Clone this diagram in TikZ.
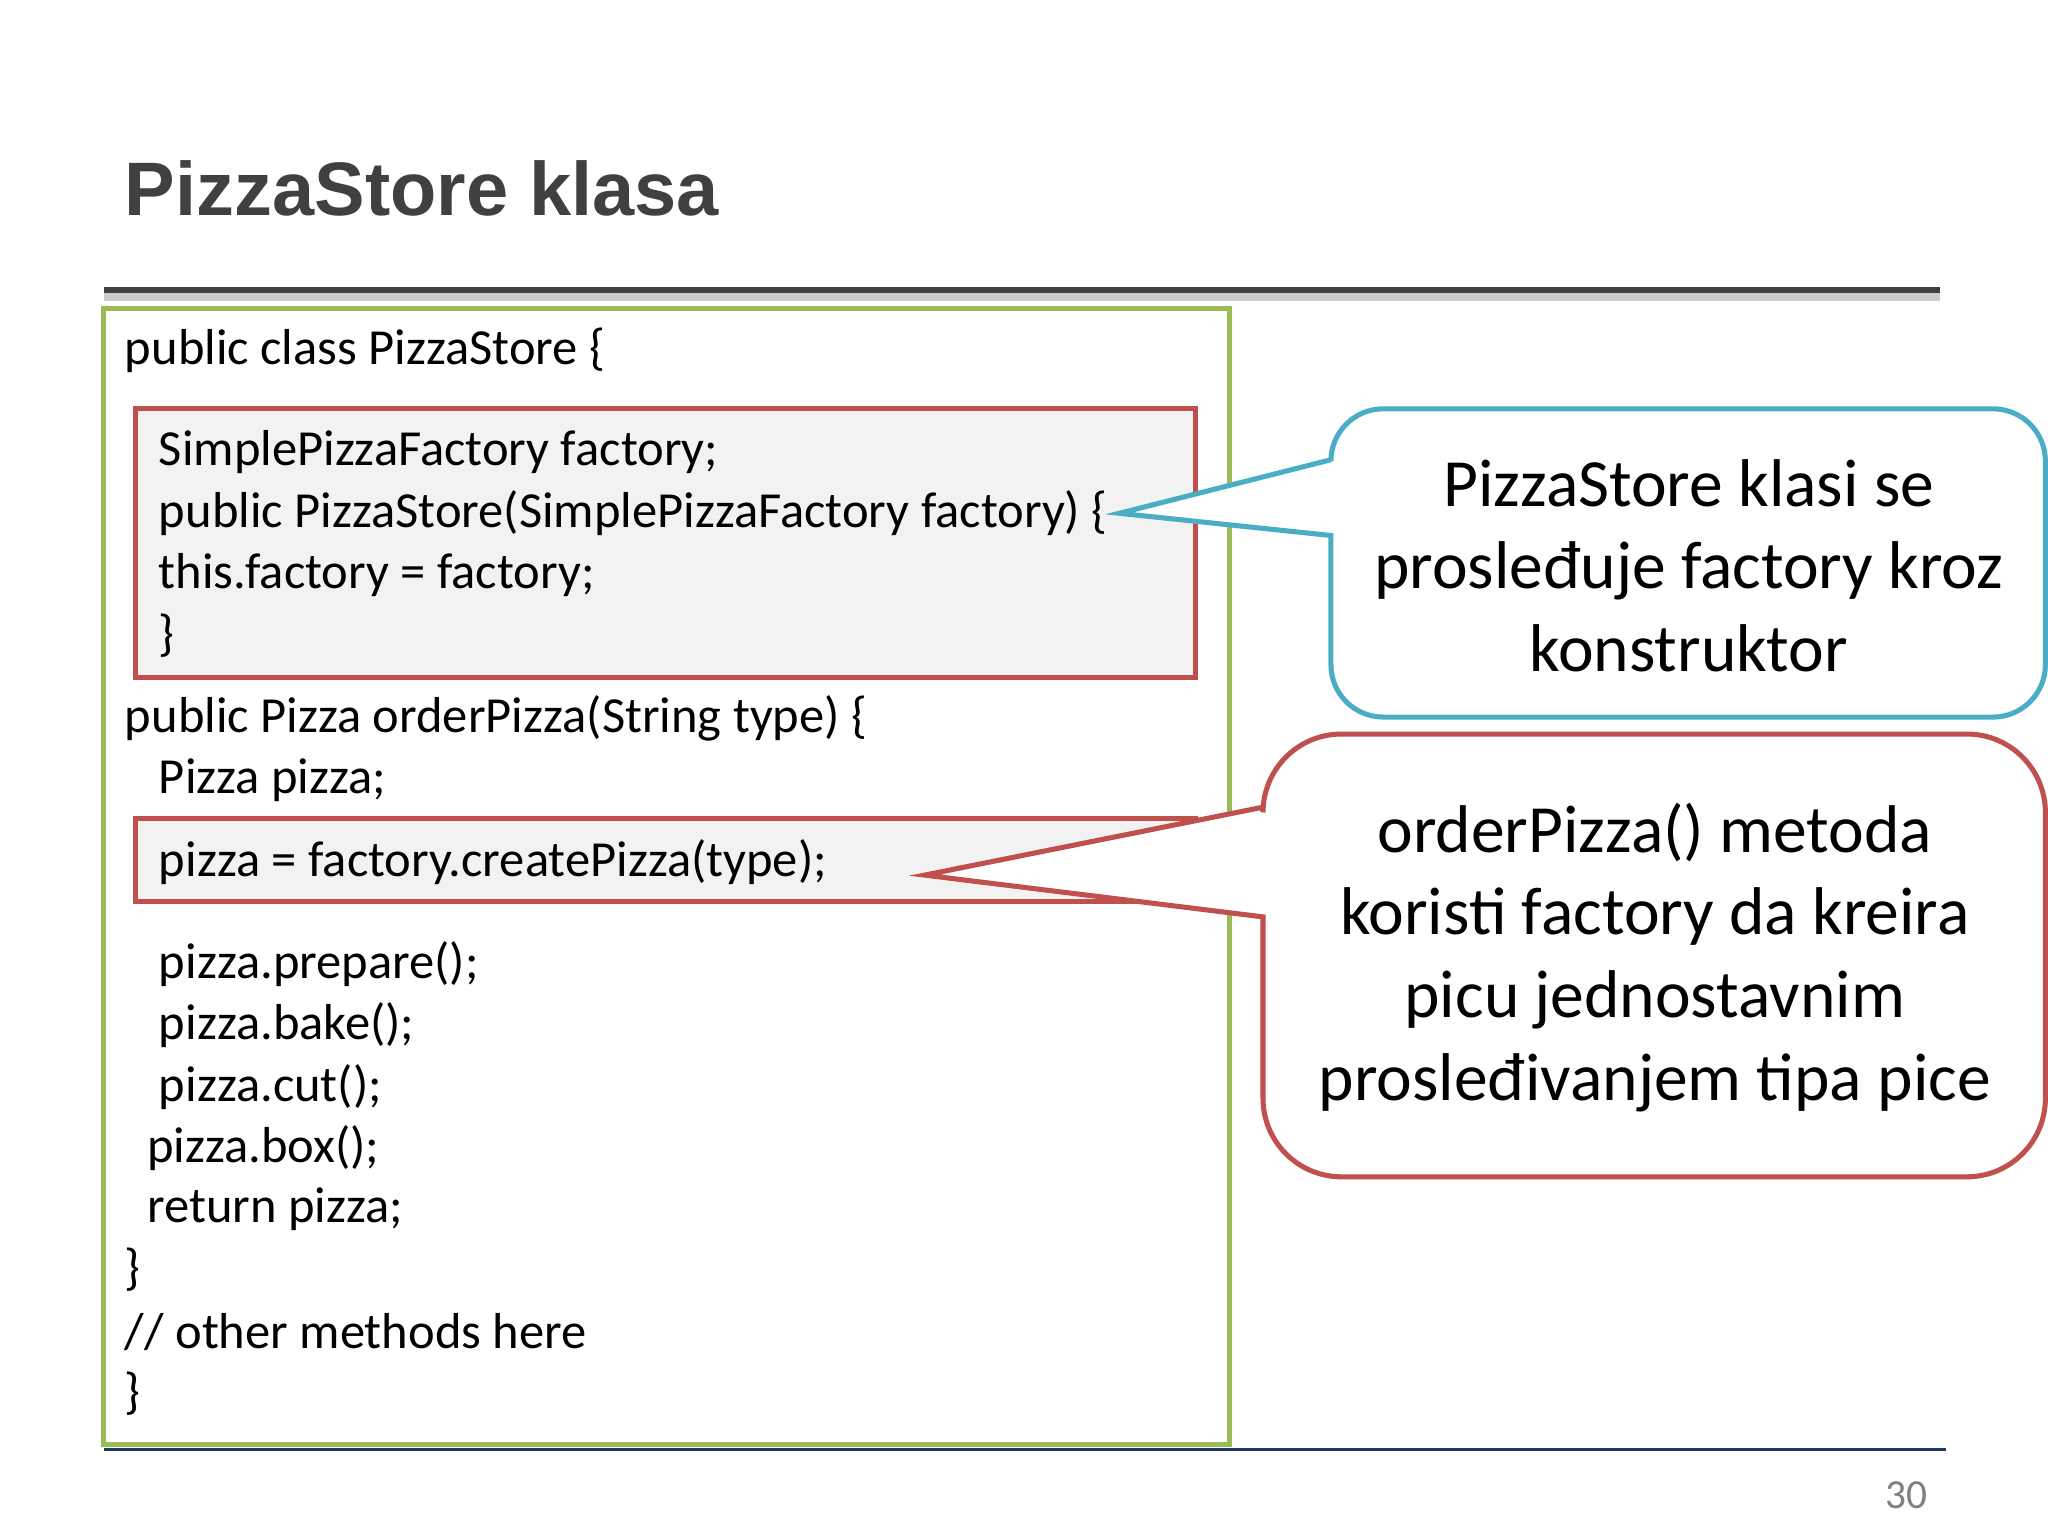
\documentclass[tikz,border=0pt]{standalone}
\usepackage{fontspec}
\setmainfont{Carlito}
\newfontfamily\titlefont{Liberation Sans}
\definecolor{tgray}{HTML}{404040}
\definecolor{cgreen}{HTML}{9BBB59}
\definecolor{cred}{HTML}{C0504D}
\definecolor{cblue}{HTML}{4BACC6}
\definecolor{cfill}{HTML}{F2F2F2}
\definecolor{cnavy}{HTML}{1F3864}
\begin{document}
\begin{tikzpicture}[x=0.01cm,y=-0.01cm,
  code/.style={anchor=west,inner sep=0pt,font=\fontsize{11}{13}\selectfont},
  hl/.style={draw=cred,line width=1.1pt,fill=cfill},
  call/.style={fill=white,line width=1.1pt},
  ctext/.style={align=center,font=\fontsize{14.7}{18}\selectfont}]
\useasboundingbox[fill=white] (0,0) rectangle (1568,1176);
\node[anchor=base west,inner sep=0pt,text=tgray,font=\titlefont\bfseries\fontsize{16.5}{20}\selectfont] (title) at (95,165) {PizzaStore klasa};
\coordinate (l1) at (80,222); \coordinate (l2) at (1485,222);
\draw[gray!40,line width=2pt] ([yshift=-1.5pt]l1) -- ([yshift=-1.5pt]l2);
\draw[tgray,line width=1.5pt] (l1) -- (l2);
\coordinate (b1) at (80,1110); \coordinate (b2) at (1490,1110);
\draw[cnavy,line width=0.6pt] (b1) -- (b2);
\node[text=gray,font=\fontsize{9}{11}\selectfont] (pg) at (1460,1145) {30};
\draw[cgreen,line width=1.1pt] (79,236) rectangle (941,1106);
\draw[hl] (104,313) rectangle (915,519);
\draw[hl] (104,627) rectangle (915,690);
\node[code] (c1) at (95,268) {public class PizzaStore \{};
\node[code] (c2) at (121,346) {SimplePizzaFactory factory;};
\node[code] (c3) at (121,393) {public PizzaStore(SimplePizzaFactory factory) \{};
\node[code] (c4) at (121,440) {this.factory = factory;};
\node[code] (c5) at (121,487) {\}};
\node[code] (c6) at (95,550) {public Pizza orderPizza(String type) \{};
\node[code] (c7) at (121,597) {Pizza pizza;};
\node[code] (c8) at (121,660) {pizza = factory.createPizza(type);};
\node[code] (c9) at (121,738) {pizza.prepare();};
\node[code] (c10) at (121,785) {pizza.bake();};
\node[code] (c11) at (121,832) {pizza.cut();};
\node[code] (c12) at (112,879) {pizza.box();};
\node[code] (c13) at (112,926) {return pizza;};
\node[code] (c14) at (95,972) {\}};
\node[code] (c15) at (95,1020) {// other methods here};
\node[code] (c16) at (95,1067) {\}};
% blue callout
\coordinate (bt) at (857,393);
\draw[call,draw=cblue] (1019,352) -- (bt) -- (1019,410) [rounded corners=0.4cm] -- (1019,549) -- (1566,549) -- (1566,313) -- (1019,313) [sharp corners] -- cycle;
\node[ctext] (t1) at (1293,433) {PizzaStore klasi se\\prosleđuje factory kroz\\konstruktor};
% red callout
\coordinate (rt) at (708,670);
\draw[call,draw=cred] (967,618) -- (rt) -- (967,702) [rounded corners=0.6cm] -- (967,901) -- (1566,901) -- (1566,562) -- (967,562) [sharp corners] -- cycle;
\node[ctext] (t2) at (1267,733) {orderPizza() metoda\\koristi factory da kreira\\picu jednostavnim\\prosleđivanjem tipa pice};
\end{tikzpicture}
\end{document}
